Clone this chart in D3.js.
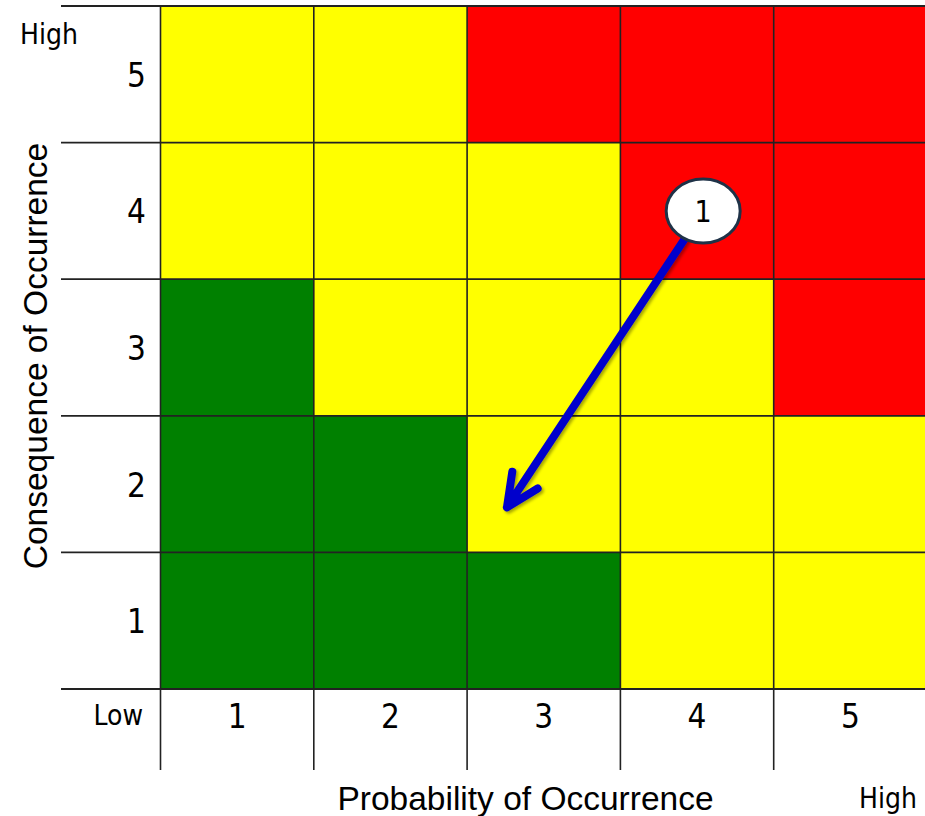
<!DOCTYPE html>
<html>
<head>
<meta charset="utf-8">
<script src="https://cdn.jsdelivr.net/npm/d3@7"></script>
<style>
  body { margin: 0; background: #fff; }
  svg text { font-family: "DejaVu Sans Condensed", "DejaVu Sans", Verdana, sans-serif; fill: #000; }
  svg text.title { font-family: "Liberation Sans", Arial, sans-serif; }
</style>
</head>
<body>
<div id="chart"></div>
<script>
const probability = [1, 2, 3, 4, 5];
const consequence = [1, 2, 3, 4, 5];
// risk level per row (consequence 5 down to 1), columns probability 1..5
const riskRows = [
  ["Y", "Y", "R", "R", "R"],
  ["Y", "Y", "Y", "R", "R"],
  ["G", "Y", "Y", "Y", "R"],
  ["G", "G", "Y", "Y", "Y"],
  ["G", "G", "G", "Y", "Y"]
];
const levelColors = { G: "#008000", Y: "#ffff00", R: "#ff0000" };
const riskItems = [{ id: "1", prob: 4.04, cons: 4.0, toProb: 2.76, toCons: 1.83 }];

const width = 925, height = 816;
const gLeft = 160.5, gRight = 927, gTop = 6, gBottom = 689;

const svg = d3.select("#chart").append("svg")
  .attr("width", width).attr("height", height);

const x = d3.scaleBand().domain(probability).range([gLeft, gRight]);
const y = d3.scaleBand().domain(consequence.slice().reverse()).range([gTop, gBottom]);
const xv = d3.scaleLinear().domain([0.5, 5.5]).range([gLeft, gRight]);
const yv = d3.scaleLinear().domain([0.5, 5.5]).range([gBottom, gTop]);

const defs = svg.append("defs");
const shadow = defs.append("filter").attr("id", "shadow")
  .attr("x", "-20%").attr("y", "-20%").attr("width", "140%").attr("height", "140%");
shadow.append("feDropShadow").attr("dx", 2).attr("dy", 2).attr("stdDeviation", 1.5)
  .attr("flood-color", "#000").attr("flood-opacity", 0.35);

// cells
const cells = [];
riskRows.forEach((row, i) => {
  row.forEach((lvl, j) => {
    cells.push({ c: consequence[consequence.length - 1 - i], p: probability[j], lvl });
  });
});
svg.append("g").selectAll("rect").data(cells).enter().append("rect")
  .attr("x", d => x(d.p)).attr("y", d => y(d.c))
  .attr("width", x.bandwidth()).attr("height", y.bandwidth())
  .attr("fill", d => levelColors[d.lvl]);

// horizontal lines extend out to the left
const hLines = [gTop].concat(consequence.map(c => y(c) + y.bandwidth()));
svg.append("g").selectAll("line").data(hLines).enter().append("line")
  .attr("x1", 61).attr("x2", width).attr("y1", d => d).attr("y2", d => d)
  .attr("stroke", "#222").attr("stroke-width", 1.8);

// vertical lines extend down
const vLines = probability.map(p => x(p));
svg.append("g").selectAll("line").data(vLines).enter().append("line")
  .attr("x1", d => d).attr("x2", d => d).attr("y1", gTop).attr("y2", 770)
  .attr("stroke", "#222").attr("stroke-width", 1.6);

// tick labels
svg.append("g").selectAll("text").data(consequence).enter().append("text")
  .attr("x", 146).attr("y", d => y(d) + y.bandwidth() / 2 + 12.5)
  .attr("text-anchor", "end").attr("font-size", 33).text(d => d);
svg.append("g").selectAll("text").data(probability).enter().append("text")
  .attr("x", d => x(d) + x.bandwidth() / 2).attr("y", 728)
  .attr("text-anchor", "middle").attr("font-size", 33).text(d => d);

svg.append("text").attr("x", 20).attr("y", 44).attr("font-size", 28).text("High");
svg.append("text").attr("x", 143).attr("y", 725).attr("text-anchor", "end").attr("font-size", 28).text("Low");
svg.append("text").attr("x", 917).attr("y", 808).attr("text-anchor", "end").attr("font-size", 28).text("High");

svg.append("text").attr("class", "title").attr("x", 525.5).attr("y", 810).attr("text-anchor", "middle")
  .attr("font-size", 33.5).text("Probability of Occurrence");
svg.append("text").attr("class", "title").attr("transform", "translate(47,356) rotate(-90)")
  .attr("text-anchor", "middle").attr("font-size", 33.5)
  .text("Consequence of Occurrence");

// risk movement arrows
const rx = 37, ry = 32;
riskItems.forEach(r => {
  const cx = xv(r.prob), cy = yv(r.cons);
  const tx = xv(r.toProb), ty = yv(r.toCons);
  const dx = tx - cx, dy = ty - cy;
  const len = Math.hypot(dx, dy);
  const ux = dx / len, uy = dy / len;
  const t = 1 / Math.sqrt((ux * ux) / (rx * rx) + (uy * uy) / (ry * ry));
  const sx = cx + ux * t, sy = cy + uy * t;
  const wing = 36, ang = 25 * Math.PI / 180;
  const bx = -ux, by = -uy;
  const w1 = [tx + wing * (bx * Math.cos(ang) - by * Math.sin(ang)), ty + wing * (bx * Math.sin(ang) + by * Math.cos(ang))];
  const w2 = [tx + wing * (bx * Math.cos(-ang) - by * Math.sin(-ang)), ty + wing * (bx * Math.sin(-ang) + by * Math.cos(-ang))];
  const g = svg.append("g").attr("filter", "url(#shadow)");
  g.append("path")
    .attr("d", `M${sx},${sy}L${tx},${ty}M${w1[0]},${w1[1]}L${tx},${ty}L${w2[0]},${w2[1]}`)
    .attr("fill", "none").attr("stroke", "#0000cc").attr("stroke-width", 8)
    .attr("stroke-linecap", "round").attr("stroke-linejoin", "round");
  svg.append("ellipse").attr("cx", cx).attr("cy", cy).attr("rx", rx).attr("ry", ry)
    .attr("fill", "#fff").attr("stroke", "#1f3247").attr("stroke-width", 3);
  svg.append("text").attr("x", cx).attr("y", cy + 11).attr("text-anchor", "middle")
    .attr("font-size", 30).text(r.id);
});
</script>
</body>
</html>
